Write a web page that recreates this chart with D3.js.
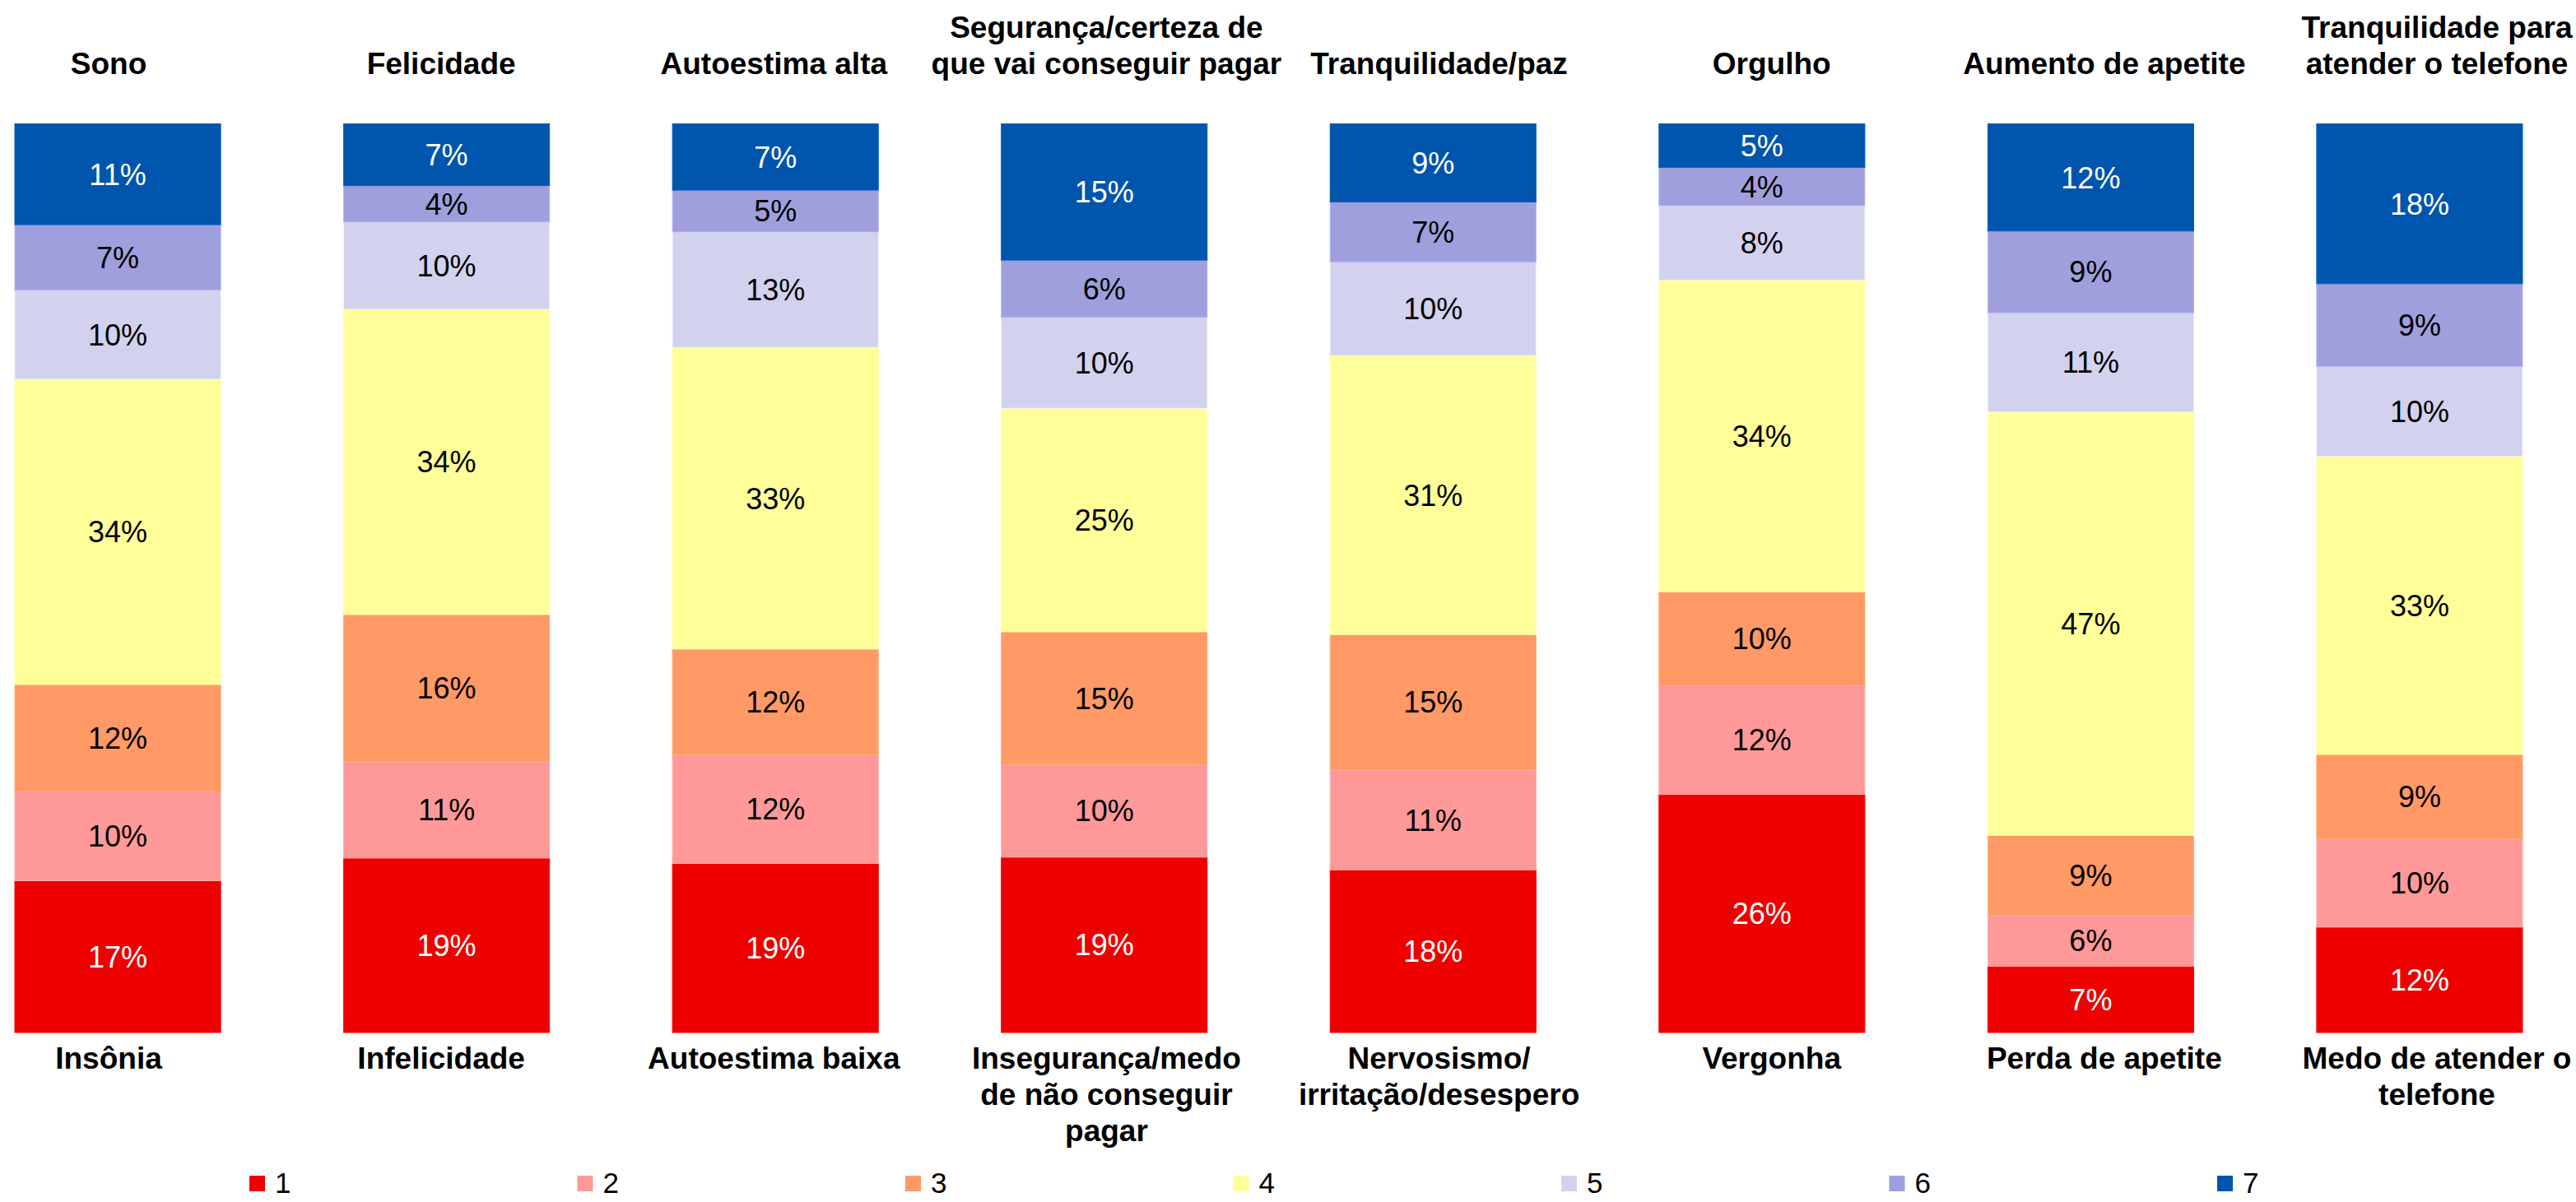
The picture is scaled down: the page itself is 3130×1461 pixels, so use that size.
<!DOCTYPE html>
<html>
<head>
<meta charset="utf-8">
<script src="https://cdn.jsdelivr.net/npm/d3@7"></script>
<style>
  html, body { margin: 0; padding: 0; background: #ffffff; }
  svg { display: block; font-family: "Liberation Sans", Arial, sans-serif; }
</style>
</head>
<body>
<svg id="chart" width="3130" height="1461"></svg>
<script>
// Positive pole of each item (shown above the bar)
const topLabels = [
  ["Sono"],
  ["Felicidade"],
  ["Autoestima alta"],
  ["Segurança/certeza de", "que vai conseguir pagar"],
  ["Tranquilidade/paz"],
  ["Orgulho"],
  ["Aumento de apetite"],
  ["Tranquilidade para", "atender o telefone"]
];

// Negative pole of each item (shown below the bar)
const bottomLabels = [
  ["Insônia"],
  ["Infelicidade"],
  ["Autoestima baixa"],
  ["Insegurança/medo", "de não conseguir", "pagar"],
  ["Nervosismo/", "irritação/desespero"],
  ["Vergonha"],
  ["Perda de apetite"],
  ["Medo de atender o", "telefone"]
];

// Scale points 1..7
const levels = ["1", "2", "3", "4", "5", "6", "7"];
const levelColors = ["#EE0000", "#FF9999", "#FF9966", "#FFFF99", "#D2D2EF", "#9F9FDD", "#0055AD"];

// Share of answers (%) per scale point, one value per item
const level1 = [16.7, 19.2, 18.6, 19.3, 17.9, 26.2, 7.3, 11.6];
const level2 = [9.8, 10.6, 12.0, 10.2, 11.0, 12.0, 5.6, 9.7];
const level3 = [11.8, 16.2, 11.6, 14.6, 14.9, 10.3, 8.8, 9.3];
const level4 = [33.6, 33.6, 33.2, 24.6, 30.7, 34.3, 46.6, 32.8];
const level5 = [9.8, 9.6, 12.7, 10.0, 10.3, 8.2, 10.9, 9.9];
const level6 = [7.2, 4.0, 4.6, 6.3, 6.6, 4.2, 9.0, 9.1];
const level7 = [11.1, 6.8, 7.3, 15.0, 8.6, 4.8, 11.8, 17.6];

const seriesValues = [level1, level2, level3, level4, level5, level6, level7];

// Build rows for d3.stack
const items = d3.range(topLabels.length);
const rows = items.map(i => {
  const r = { item: i };
  levels.forEach((k, j) => { r[k] = seriesValues[j][i]; });
  return r;
});

const svg = d3.select("#chart");

const x = d3.scaleBand()
  .domain(items)
  .range([18, 3065])
  .paddingInner(0.374)
  .paddingOuter(0);

const y = d3.scaleLinear().domain([0, 100]).range([1255, 150.5]);

const labelX = d3.scalePoint().domain(items).range([132, 2961]);

const color = d3.scaleOrdinal().domain(levels).range(levelColors);

const stacked = d3.stack().keys(levels)(rows);

const fmt = v => d3.format(".0f")(v) + "%";

// Stacked segments
const layer = svg.append("g").selectAll("g")
  .data(stacked)
  .join("g")
  .attr("fill", d => color(d.key));

layer.selectAll("rect")
  .data(d => d.map(p => ({ key: d.key, p })))
  .join("rect")
  .attr("x", d => x(d.p.data.item))
  .attr("width", x.bandwidth())
  .attr("y", d => y(d.p[1]))
  .attr("height", d => y(d.p[0]) - y(d.p[1]))
  .attr("stroke", d => d3.color(color(d.key)).brighter(0.35))
  .attr("stroke-width", 1);

// Value labels inside segments
const lightText = new Set(["1", "7"]);
svg.append("g").selectAll("g")
  .data(stacked)
  .join("g")
  .selectAll("text")
  .data(d => d.map(p => ({ key: d.key, p })))
  .join("text")
  .attr("x", d => x(d.p.data.item) + x.bandwidth() / 2)
  .attr("y", d => (y(d.p[0]) + y(d.p[1])) / 2)
  .attr("dy", "0.36em")
  .attr("text-anchor", "middle")
  .attr("font-size", 36)
  .attr("fill", d => lightText.has(d.key) ? "#ffffff" : "#000000")
  .text(d => fmt(d.p[1] - d.p[0]));

// Item titles above bars (last line sits on a common baseline)
const lineH = 44;
svg.append("g").selectAll("text")
  .data(topLabels)
  .join("text")
  .attr("text-anchor", "middle")
  .attr("font-size", 37)
  .attr("font-weight", "bold")
  .attr("fill", "#000")
  .each(function(lines, i) {
    const t = d3.select(this);
    const base = 90 - (lines.length - 1) * lineH;
    lines.forEach((ln, k) => {
      t.append("tspan")
        .attr("x", labelX(i))
        .attr("y", base + k * lineH)
        .text(ln);
    });
  });

// Item titles below bars
svg.append("g").selectAll("text")
  .data(bottomLabels)
  .join("text")
  .attr("text-anchor", "middle")
  .attr("font-size", 37)
  .attr("font-weight", "bold")
  .attr("fill", "#000")
  .each(function(lines, i) {
    const t = d3.select(this);
    lines.forEach((ln, k) => {
      t.append("tspan")
        .attr("x", labelX(i))
        .attr("y", 1299 + k * lineH)
        .text(ln);
    });
  });

// Legend
const legendX = d3.scalePoint().domain(levels).range([303, 2694]);
const legend = svg.append("g").selectAll("g")
  .data(levels)
  .join("g")
  .attr("transform", d => `translate(${legendX(d)},1429)`);

legend.append("rect")
  .attr("width", 19)
  .attr("height", 19)
  .attr("fill", d => color(d));

legend.append("text")
  .attr("x", 31)
  .attr("y", 21)
  .attr("font-size", 35)
  .attr("fill", "#000")
  .text(d => d);
</script>
</body>
</html>
